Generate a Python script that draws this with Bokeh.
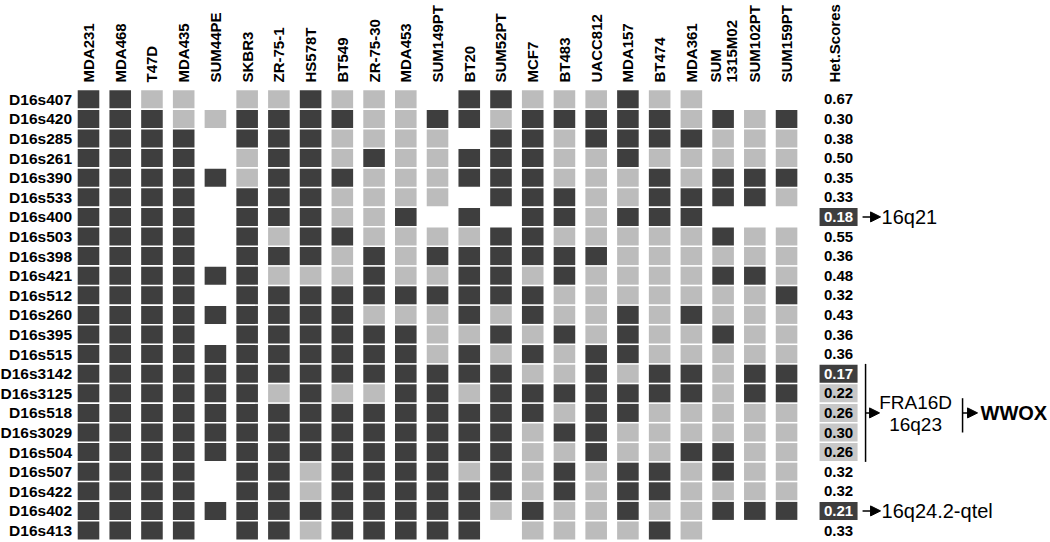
import math
from bokeh.plotting import figure
from bokeh.models import Range1d, ColumnDataSource, Arrow, NormalHead
from bokeh.core.properties import value
from bokeh.embed import file_html
from bokeh.resources import INLINE

# ---------------- data ----------------
cell_lines = ["MDA231", "MDA468", "T47D", "MDA435", "SUM44PE", "SKBR3", "ZR-75-1",
              "HS578T", "BT549", "ZR-75-30", "MDA453", "SUM149PT", "BT20", "SUM52PT",
              "MCF7", "BT483", "UACC812", "MDA157", "BT474", "MDA361",
              "SUM\n1315M02", "SUM102PT", "SUM159PT"]

markers = ["D16s407", "D16s420", "D16s285", "D16s261", "D16s390", "D16s533",
           "D16s400", "D16s503", "D16s398", "D16s421", "D16s512", "D16s260",
           "D16s395", "D16s515", "D16s3142", "D16s3125", "D16s518", "D16s3029",
           "D16s504", "D16s507", "D16s422", "D16s402", "D16s413"]

# D = homozygous (dark), L = heterozygous (light), W = not informative (blank)
calls = [
    "DDLLWLLDLLLWDDLLLDLLWWW",  # D16s407
    "DDDLLDDDDLLDDLDDDDDLDLD",  # D16s420
    "DDDDWDDDLLLLWDDLDDDDLLL",  # D16s285
    "DDDDWLDDLDLLDDDLLDLLLLL",  # D16s261
    "DDDDDLDDDLLLDDDLLLDLDDD",  # D16s390
    "DDDDWDDDLLLLWDDDLLDDDDL",  # D16s533
    "DDDDWDDDLLDWDWDDLDDDWWW",  # D16s400
    "DDDDWDLDDLLLLDDLLLLLDLL",  # D16s503
    "DDDDWDDDLDLDDDDDDLLLLLL",  # D16s398
    "DDDDDDLLLDLLDDLDLLLLDDL",  # D16s421
    "DDDDWDDDDDDDDDDLLLLLLLD",  # D16s512
    "DDDDDDDDDLLLDLDLLDLDLLL",  # D16s260
    "DDDDWDDDDDDLLDLDLDLLDLL",  # D16s395
    "DDDDDDDDDDDLDLDLDDLLLLL",  # D16s515
    "DDDDDDDDDDDDDDLLDLDDLDD",  # D16s3142
    "DDDDDDLDLLDDLDDDDDDDLDD",  # D16s3125
    "DDDDDDDDDDDDDDDLDDLLLLL",  # D16s518
    "DDDDDDDDDDDDDDLDDLLLLLL",  # D16s3029
    "DDDDDDDDDDDDDDLLDLLDDLL",  # D16s504
    "DDDDWDDLDDDDLDLDLDDLDLL",  # D16s507
    "DDDDWDDLDDDDDDLDLDDLLLL",  # D16s422
    "DDDDDDDDDDDDDLDLLDLLDDD",  # D16s402
    "DDDDWDDLDDDDDWLLLLDLWWW",  # D16s413
]

het_scores = [0.67, 0.30, 0.38, 0.50, 0.35, 0.33, 0.18, 0.55, 0.36, 0.48, 0.32,
              0.43, 0.36, 0.36, 0.17, 0.22, 0.26, 0.30, 0.26, 0.32, 0.32, 0.21, 0.33]
# highlight of het score: D = dark box, L = light box, "" = none
het_highlight = ["", "", "", "", "", "", "D", "", "", "", "", "", "", "",
                 "D", "L", "L", "L", "L", "", "", "D", ""]
het_title = "Het.Scores"

annot_16q21 = ("D16s400", "16q21")
annot_qtel = ("D16s402", "16q24.2-qtel")
fra_rows = ("D16s3142", "D16s504")
fra_label = "FRA16D\n16q23"
gene_label = "WWOX"

# ---------------- layout ----------------
W, H = 1050, 542
PX_X, PX_Y = 31.73, 19.6
x_start = -88 / PX_X
x_end = x_start + W / PX_X
y_top = -98.8 / PX_Y
y_bottom = y_top + H / PX_Y

def dx(px):
    return px / PX_X

def dy(px):
    return px / PX_Y

DARK = "#3e3e3e"
LIGHT = "#bcbcbc"
HET_LIGHT = "#c8c8c8"
FONT = value("Liberation Sans")

p = figure(width=W, height=H, x_range=Range1d(x_start, x_end),
           y_range=Range1d(y_bottom, y_top), output_backend="svg",
           toolbar_location=None, min_border=0, x_axis_location=None,
           y_axis_location=None, outline_line_color=None)
p.grid.visible = False
p.background_fill_color = "white"

# cells
cx, cy, cc = [], [], []
for j, row in enumerate(calls):
    for i, c in enumerate(row):
        if c == "W":
            continue
        cx.append(i)
        cy.append(j)
        cc.append(DARK if c == "D" else LIGHT)
p.rect(x="x", y="y", width=0.68, height=0.92, fill_color="c", line_color=None,
       source=ColumnDataSource(dict(x=cx, y=cy, c=cc)))

# row labels
rows_y = list(range(len(markers)))
p.text(x=[-dx(16.5)] * len(markers), y=rows_y, text=markers, text_align="right",
       text_baseline="middle", text_font=FONT, text_font_size="15.5px",
       text_font_style="bold", text_color="black")

# column labels (plus the het-score title in the same vertical style)
het_x = len(cell_lines) - 1 + dx(52)
lab_x = list(range(len(cell_lines))) + [het_x - dx(4)]
lab_t = cell_lines + [het_title]
p.text(x=lab_x, y=[-dy(16.8)] * len(lab_t), text=lab_t, angle=math.pi / 2,
       text_align="left", text_baseline="middle", text_font=FONT,
       text_font_size="15px", text_font_style="bold", text_color="black",
       text_line_height=0.95)

# het scores
hb_x, hb_y, hb_c = [], [], []
for j, h in enumerate(het_highlight):
    if h:
        hb_x.append(het_x)
        hb_y.append(j)
        hb_c.append(DARK if h == "D" else HET_LIGHT)
p.rect(x="x", y="y", width=dx(38), height=0.92, fill_color="c", line_color=None,
       source=ColumnDataSource(dict(x=hb_x, y=hb_y, c=hb_c)))
het_txt = ["%.2f" % v for v in het_scores]
het_col = ["white" if h == "D" else "black" for h in het_highlight]
p.text(x=[het_x] * len(het_scores), y=rows_y, text=het_txt, text_color=het_col,
       text_align="center", text_baseline="middle", text_font=FONT,
       text_font_size="15px", text_font_style="bold")

# annotations
def arrow(x0, x1, y):
    p.add_layout(Arrow(end=NormalHead(size=10, fill_color="black", line_color="black"),
                       x_start=x0, y_start=y, x_end=x1, y_end=y,
                       line_color="black", line_width=1.5))

for mk, lab in (annot_16q21, annot_qtel):
    yy = markers.index(mk)
    arrow(het_x + dx(24), het_x + dx(42), yy)
    p.text(x=[het_x + dx(43)], y=[yy], text=[lab], text_align="left",
           text_baseline="middle", text_font=FONT, text_font_size="20px",
           text_color="black")

r0, r1 = markers.index(fra_rows[0]), markers.index(fra_rows[1])
rm = (r0 + r1) / 2
bx = het_x + dx(27)
p.segment(x0=[bx], y0=[r0 - 0.5], x1=[bx], y1=[r1 + 0.5], line_color="black",
          line_width=1.5)
arrow(bx, bx + dx(14), rm)
p.text(x=[het_x + dx(77)], y=[rm + 0.05], text=[fra_label], text_align="center",
       text_baseline="middle", text_font=FONT, text_font_size="19px",
       text_color="black", text_line_height=1.05)
bx2 = het_x + dx(124)
p.segment(x0=[bx2], y0=[rm - 0.75], x1=[bx2], y1=[rm + 1.0], line_color="black",
          line_width=1.5)
arrow(bx2, bx2 + dx(15), rm)
p.text(x=[bx2 + dx(18)], y=[rm], text=[gene_label], text_align="left",
       text_baseline="middle", text_font=FONT, text_font_size="20px",
       text_font_style="bold", text_color="black")

open("out.html", "w").write(file_html(p, INLINE))
